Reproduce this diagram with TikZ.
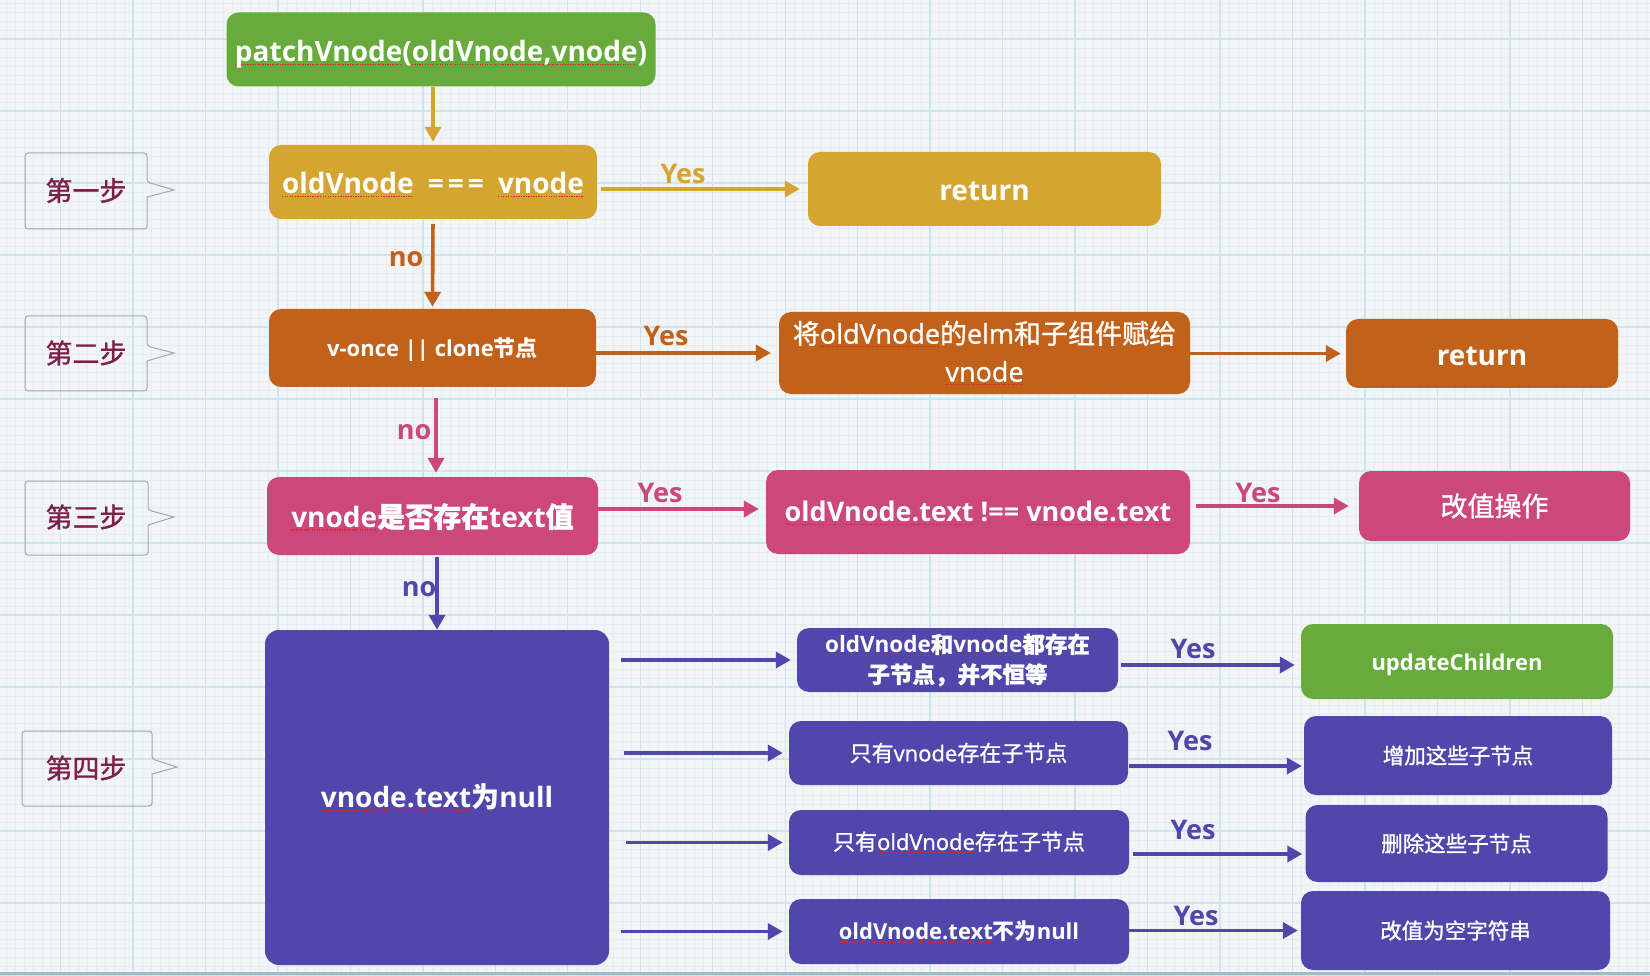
\documentclass[tikz,border=0pt]{standalone}
\usepackage{fontspec}
\setmainfont{Open Sans}
\newfontfamily\cjk{Noto Sans CJK SC}
\newfontfamily\cjkm{Noto Sans CJK SC}[FakeBold=1.2]
\newfontfamily\latm{Open Sans}[FakeBold=1.0]
\usetikzlibrary{arrows.meta}
\definecolor{bg}{HTML}{F3F4F5}
\definecolor{gmaj}{HTML}{CCE5F2}
\definecolor{gmin}{HTML}{E2EEF4}
\definecolor{gbot}{HTML}{A7BAC4}
\definecolor{cgreen}{HTML}{67AB3D}
\definecolor{cgold}{HTML}{D5A531}
\definecolor{corange}{HTML}{C2611A}
\definecolor{cpink}{HTML}{CB477C}
\definecolor{cpurple}{HTML}{4F47AB}
\definecolor{cstep}{HTML}{7E1F4B}
\definecolor{csq}{HTML}{D9262B}
\newsavebox\sqbox
\newcommand\squig[1]{\sbox\sqbox{#1}\rlap{\textcolor{csq}{\raisebox{-3.5pt}{\hbox to \wd\sqbox{\xleaders\hbox{\rule{1.3pt}{1.3pt}\kern1.2pt}\hfil}}}}\usebox\sqbox}
\newcommand\zhtxt[1]{{\cjk #1}}
\newcommand\zhm[1]{{\cjkm #1}}
\newcommand\textdown[2]{\raisebox{-#1}[\height][\depth]{#2}}
\begin{document}
\begin{tikzpicture}[x=1pt,y=-1pt,
  box/.style={rounded corners=12pt, inner sep=0pt, text=white, align=center},
  arr/.style={line width=3.6pt, -{Triangle[length=15pt,width=16pt]}},
  lbl/.style={inner sep=0pt, font=\bfseries\fontsize{27}{30}\selectfont},
  steptxt/.style={inner sep=0pt, text=cstep, font=\cjkm\fontsize{27}{30}\selectfont},
  callout/.style={draw=gray!70, line width=1pt}]
\useasboundingbox (0,0) rectangle (1650,976);
\begin{scope}
\clip (0,0) rectangle (1650,976);
\fill[bg] (0,0) rectangle (1650,976);
\foreach \i in {-7,...,176} \draw[gmin, line width=0.8pt] ({60.5+\i*9.06},0) -- ({60.5+\i*9.06},972);
\foreach \j in {-5,...,104} \draw[gmin, line width=0.8pt] (0,{39+\j*9}) -- (1650,{39+\j*9});
\foreach \i in {-1,...,22} \draw[gmaj, line width=1.3pt] ({60.5+\i*72.47},0) -- ({60.5+\i*72.47},972);
\foreach \j in {-1,...,13} \draw[gmaj, line width=1.3pt] (0,{39+\j*72}) -- (1650,{39+\j*72});
\draw[gbot, line width=2.5pt] (0,973.5) -- (1650,973.5);
\end{scope}

% step callouts
\draw[callout] (25,190) [rounded corners=3pt] -- (25,153) -- (147,153) -- (147,182) [sharp corners] -- (174,190) -- (147,197) [rounded corners=3pt] -- (147,229) -- (25,229) -- cycle;
\draw[callout] (25,353) [rounded corners=3pt] -- (25,316) -- (147,316) -- (147,346) [sharp corners] -- (174,353) -- (147,361) [rounded corners=3pt] -- (147,391) -- (25,391) -- cycle;
\draw[callout] (25,517) [rounded corners=3pt] -- (25,481) -- (148,481) -- (148,510) [sharp corners] -- (174,517) -- (148,525) [rounded corners=3pt] -- (148,555) -- (25,555) -- cycle;
\draw[callout] (22,767) [rounded corners=3pt] -- (22,731) -- (152,731) -- (152,759) [sharp corners] -- (177,767) -- (152,774) [rounded corners=3pt] -- (152,806) -- (22,806) -- cycle;
\node[steptxt] (s1) at (86,190.5) {第一步};
\node[steptxt] (s2) at (86,353) {第二步};
\node[steptxt] (s3) at (86,517) {第三步};
\node[steptxt] (s4) at (86,768) {第四步};

% boxes
\node[box, fill=cgreen, minimum width=429pt, minimum height=74pt, font=\bfseries\fontsize{28}{34}\selectfont] (patch) at (441,49.5) {\textdown{5pt}{\squig{patchVnode}(\squig{oldVnode,vnode})}};
\node[box, fill=cgold, minimum width=328pt, minimum height=74pt, font=\bfseries\fontsize{28}{34}\selectfont] (old) at (433,182) {\textdown{3pt}{\squig{oldVnode}\kern7pt\ =\kern4pt=\kern4pt=\kern7pt\ \squig{vnode}}};
\node[box, fill=cgold, minimum width=353pt, minimum height=74pt, font=\bfseries\fontsize{28}{34}\selectfont] (ret1) at (984.5,189) {\textdown{2pt}{return}};
\node[box, fill=corange, minimum width=327pt, minimum height=78pt, font=\bfseries\fontsize{22}{28}\selectfont] (vonce) at (432.5,348) {\textdown{2pt}{v-once || clone\zhtxt{节点}}};
\node[box, fill=corange, minimum width=411pt, minimum height=82pt, font=\latm\fontsize{27}{38}\selectfont] (assign) at (984.5,353) {\zhm{将}\squig{oldVnode}\zhm{的}elm\zhm{和子组件赋给}\\\squig{vnode}};
\node[box, fill=corange, minimum width=272pt, minimum height=69pt, font=\bfseries\fontsize{28}{34}\selectfont] (ret2) at (1482,353.5) {\textdown{3pt}{return}};
\node[box, fill=cpink, minimum width=331pt, minimum height=78pt, font=\bfseries\fontsize{28}{34}\selectfont] (pinkq) at (432.5,516) {\textdown{1pt}{\squig{vnode}\zhm{是否存在}text\zhm{值}}};
\node[box, fill=cpink, minimum width=424pt, minimum height=84pt, font=\bfseries\fontsize{27}{34}\selectfont] (textne) at (978,512) {\textdown{1pt}{\squig{oldVnode.text} !== \squig{vnode.text}}};
\node[box, fill=cpink, minimum width=271pt, minimum height=70pt, font=\fontsize{27}{34}\selectfont] (change) at (1494.5,506) {\zhm{改值操作}};
\node[box, rounded corners=14pt, fill=cpurple, minimum width=344pt, minimum height=335pt, font=\bfseries\fontsize{28}{34}\selectfont] (big) at (437,797.5) {\squig{vnode.text}\zhtxt{为}null};
\node[box, fill=cpurple, minimum width=321pt, minimum height=64pt, font=\bfseries\fontsize{22.5}{30}\selectfont] (m1) at (957.5,660) {\squig{oldVnode}\zhm{和}\squig{vnode}\zhm{都存在}\\\zhm{子节点，并不恒等}};
\node[box, fill=cpurple, minimum width=339pt, minimum height=64pt, font=\latm\fontsize{22}{28}\selectfont] (m2) at (958.5,753) {\zhm{只有}vnode\zhm{存在子节点}};
\node[box, fill=cpurple, minimum width=340pt, minimum height=65pt, font=\latm\fontsize{22}{28}\selectfont] (m3) at (959,842.5) {\zhm{只有}\squig{oldVnode}\zhm{存在子节点}};
\node[box, fill=cpurple, minimum width=340pt, minimum height=65pt, font=\bfseries\fontsize{22}{28}\selectfont] (m4) at (959,931.5) {\squig{oldVnode.text}\zhtxt{不为}null};
\node[box, fill=cgreen, minimum width=312pt, minimum height=75pt, font=\bfseries\fontsize{22}{28}\selectfont] (r1) at (1457,661.5) {\textdown{3pt}{updateChildren}};
\node[box, fill=cpurple, minimum width=308pt, minimum height=79pt, font=\fontsize{21.5}{28}\selectfont] (r2) at (1458,755.5) {\zhm{增加这些子节点}};
\node[box, fill=cpurple, minimum width=302pt, minimum height=77pt, font=\fontsize{21.5}{28}\selectfont] (r3) at (1456.5,843.5) {\zhm{删除这些子节点}};
\node[box, fill=cpurple, minimum width=309pt, minimum height=79pt, font=\fontsize{21.5}{28}\selectfont] (r4) at (1455.5,930.5) {\zhm{改值为空字符串}};

% connectors
\draw[arr, cgold, shorten >=3pt] (patch.south -| old.north) -- (old.north);
\draw[arr, cgold, shorten <=4pt, shorten >=8pt] (old.east |- ret1.west) -- (ret1.west);
\draw[arr, corange, shorten <=5pt, shorten >=2pt] (old.south) -- (vonce.north);
\draw[arr, corange, shorten >=8pt] (vonce.east |- assign.west) -- (assign.west);
\draw[arr, corange, shorten >=5pt] (assign.east |- ret2.west) -- (ret2.west);
\coordinate (n2) at ([xshift=3.5pt]vonce.south);
\draw[arr, cpink, shorten <=11pt, shorten >=4pt] (n2) -- (n2 |- pinkq.north);
\coordinate (t3) at ([yshift=3pt]textne.west);
\draw[arr, cpink, shorten >=7pt] (pinkq.east |- t3) -- (t3);
\draw[arr, cpink, shorten <=6pt, shorten >=10pt] (textne.east |- change.west) -- (change.west);
\draw[arr, cpurple, shorten <=2pt] (pinkq.south -| big.north) -- (big.north);
\draw[arr, cpurple, shorten <=12pt, shorten >=6pt] (big.east |- m1.west) -- (m1.west);
\draw[arr, cpurple, shorten <=15pt, shorten >=6pt] (big.east |- m2.west) -- (m2.west);
\draw[arr, cpurple, shorten <=17pt, shorten >=6pt] (big.east |- m3.west) -- (m3.west);
\draw[arr, cpurple, shorten <=12pt, shorten >=6pt] (big.east |- m4.west) -- (m4.west);
\coordinate (t5) at ([yshift=-3.5pt]r1.west);
\draw[arr, cpurple, shorten <=3pt, shorten >=6pt] (m1.east |- t5) -- (t5);
\coordinate (t6) at ([yshift=-10.5pt]r2.west);
\draw[arr, cpurple, shorten <=1pt, shorten >=2pt] (m2.east |- t6) -- (t6);
\coordinate (t7) at ([yshift=-10.5pt]r3.west);
\draw[arr, cpurple, shorten <=4pt, shorten >=3pt] (m3.east |- t7) -- (t7);
\draw[arr, cpurple, shorten <=0pt, shorten >=3pt] (m4.east |- r4.west) -- (r4.west);

% labels
\node[lbl, text=cgold] (y1) at (683,174) {Yes};
\node[lbl, text=corange] (y2) at (666,336) {Yes};
\node[lbl, text=cpink] (y3) at (660,493) {Yes};
\node[lbl, text=cpink] (y4) at (1258,493) {Yes};
\node[lbl, text=cpurple] (y5) at (1193,649) {Yes};
\node[lbl, text=cpurple] (y6) at (1190,741) {Yes};
\node[lbl, text=cpurple] (y7) at (1193,830) {Yes};
\node[lbl, text=cpurple] (y8) at (1196,916) {Yes};
\node[lbl, text=corange] (no1) at (406,259) {no};
\node[lbl, text=cpink] (no2) at (414,432) {no};
\node[lbl, text=cpurple] (no3) at (419,589) {no};
\end{tikzpicture}
\end{document}
